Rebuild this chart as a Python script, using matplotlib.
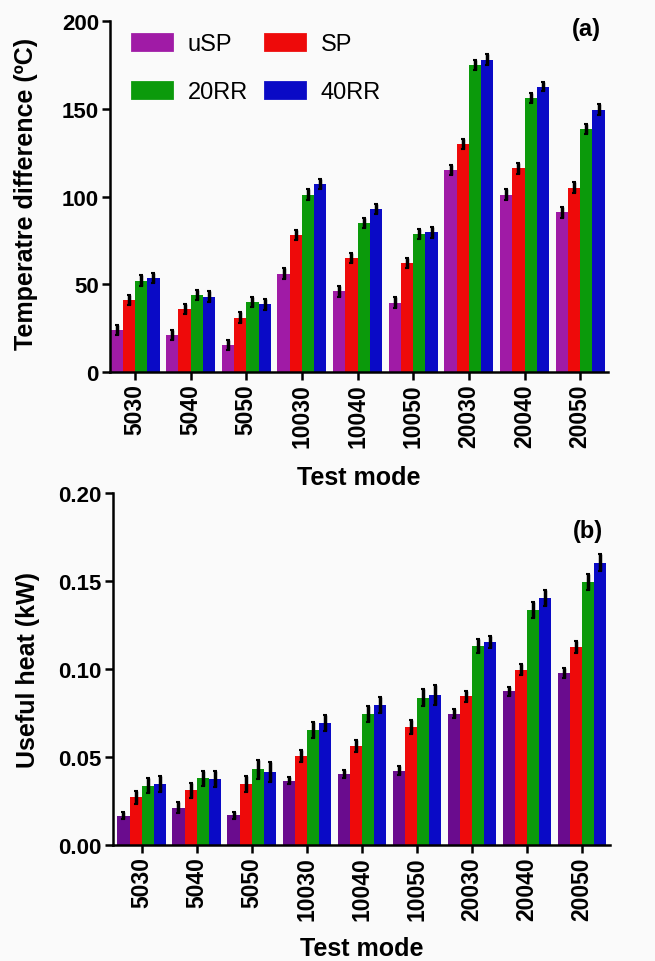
import matplotlib.pyplot as plt
import numpy as np
from matplotlib.patches import Patch

plt.rcParams['font.family'] = ['Liberation Sans', 'DejaVu Sans']

modes = ["5030", "5040", "5050", "10030", "10040", "10050", "20030", "20040", "20050"]
series = ["uSP", "SP", "20RR", "40RR"]

# (a) temperature difference, degC
dt_usp = [24, 21, 15.5, 56, 46, 39.5, 115, 101, 91]
dt_sp = [41, 36, 31, 78, 65, 62, 130, 116, 105]
dt_20rr = [52, 44, 40, 101, 85, 78.5, 175, 156, 138.5]
dt_40rr = [53.5, 43, 38.5, 107, 93, 79.5, 178, 162.5, 149.5]
dt_err_usp = [3, 3, 3, 3, 3, 3, 3, 3, 3]
dt_err_sp = [3, 3, 3, 3, 3, 3, 3, 3, 3]
dt_err_20rr = [3, 3, 3, 3, 3, 3, 3, 3, 3]
dt_err_40rr = [3, 3, 3, 3, 3, 3, 3, 2.5, 3]

# (b) useful heat, kW
q_usp = [0.0165, 0.0212, 0.0168, 0.0365, 0.0403, 0.0422, 0.0745, 0.0873, 0.0978]
q_sp = [0.027, 0.031, 0.0345, 0.0507, 0.0563, 0.0672, 0.0845, 0.0997, 0.1124]
q_20rr = [0.0338, 0.0378, 0.0430, 0.0655, 0.0743, 0.0838, 0.1133, 0.1337, 0.1493]
q_40rr = [0.0348, 0.0376, 0.0415, 0.0692, 0.0797, 0.0852, 0.1155, 0.1402, 0.1605]
q_err_usp = [0.002, 0.003, 0.002, 0.002, 0.0025, 0.0025, 0.0025, 0.0025, 0.003]
q_err_sp = [0.0035, 0.0045, 0.0045, 0.0035, 0.0035, 0.004, 0.003, 0.003, 0.0035]
q_err_20rr = [0.0045, 0.0045, 0.0055, 0.0045, 0.0045, 0.005, 0.004, 0.0045, 0.0045]
q_err_40rr = [0.0045, 0.0045, 0.0055, 0.0045, 0.0045, 0.0055, 0.0035, 0.0045, 0.005]

red = "#EE0A0A"
green = "#0B9A0B"
blue = "#0A0AC6"
top_colors = ["#A01BA6", red, green, blue]
bot_colors = ["#6A0C8E", red, green, blue]

bg = "#FAFAFA"
W, H = 655, 962
fig = plt.figure(figsize=(W / 100, H / 100), dpi=100, facecolor=bg)
# axes boxes in pixels
ax1 = fig.add_axes([110 / W, 1 - 373 / H, 498 / W, 351 / H], facecolor=bg)
ax2 = fig.add_axes([113 / W, 1 - 846 / H, 497 / W, 352 / H], facecolor=bg)

x = np.arange(len(modes))
w = 0.22
offsets = (np.arange(4) - 1.5) * w


def draw(ax, vals, errs, colors):
    for i in range(4):
        ax.bar(x + offsets[i], vals[i], w, color=colors[i], edgecolor="none",
               yerr=errs[i], error_kw=dict(ecolor="black", elinewidth=2.5,
                                           capsize=1.2, capthick=1.5))
    ax.set_xticks(x)
    ax.set_xticklabels(modes, rotation=90, fontsize=16.5, fontweight="bold")
    for s in ["top", "right"]:
        ax.spines[s].set_visible(False)
    for s in ["left", "bottom"]:
        ax.spines[s].set_linewidth(1.8)
    ax.tick_params(direction="out", length=6, width=1.8, pad=2)
    ax.tick_params(axis="y", labelsize=16)
    ax.set_xlabel("Test mode", fontsize=18, fontweight="bold", va="center")


draw(ax1, [dt_usp, dt_sp, dt_20rr, dt_40rr],
     [dt_err_usp, dt_err_sp, dt_err_20rr, dt_err_40rr], top_colors)
ax1.set_xlim(-0.45, 8.5)
ax1.set_ylim(0, 200)
ax1.set_yticks([0, 50, 100, 150, 200])
ax1.set_yticklabels(["0", "50", "100", "150", "200"], fontweight="bold")
ax1.set_ylabel("Temperatre difference (ºC)", fontsize=18, fontweight="bold", va="center")
ax1.yaxis.set_label_coords(-0.168, 0.51)
ax1.xaxis.set_label_coords(0.5, -0.299)
ax1.text(0.985, 1.012, "(a)", transform=ax1.transAxes, ha="right", va="top",
         fontsize=17, fontweight="bold")

handles = [Patch(facecolor=top_colors[0], edgecolor=top_colors[0], lw=2, joinstyle="round", label=series[0]),
           Patch(facecolor=top_colors[2], edgecolor=top_colors[2], lw=2, joinstyle="round", label=series[2]),
           Patch(facecolor=top_colors[1], edgecolor=top_colors[1], lw=2, joinstyle="round", label=series[1]),
           Patch(facecolor=top_colors[3], edgecolor=top_colors[3], lw=2, joinstyle="round", label=series[3])]
leg = ax1.legend(handles=handles, ncol=2, loc="upper left", bbox_to_anchor=(0.044, 0.965),
                 frameon=False, fontsize=17, handlelength=1.7, handleheight=0.7,
                 columnspacing=0.75, labelspacing=1.1, handletextpad=0.65,
                 borderpad=0, borderaxespad=0)

draw(ax2, [q_usp, q_sp, q_20rr, q_40rr],
     [q_err_usp, q_err_sp, q_err_20rr, q_err_40rr], bot_colors)
ax2.set_xlim(-0.52, 8.51)
ax2.set_ylim(0, 0.20)
ax2.set_yticks([0, 0.05, 0.10, 0.15, 0.20])
ax2.set_yticklabels(["0.00", "0.05", "0.10", "0.15", "0.20"], fontweight="bold")
ax2.set_ylabel("Useful heat (kW)", fontsize=18, fontweight="bold", va="center")
ax2.yaxis.set_label_coords(-0.172, 0.5)
ax2.xaxis.set_label_coords(0.5, -0.293)
ax2.text(0.985, 0.925, "(b)", transform=ax2.transAxes, ha="right", va="top",
         fontsize=17, fontweight="bold")

fig.savefig("out.png", dpi=100, facecolor=bg)
